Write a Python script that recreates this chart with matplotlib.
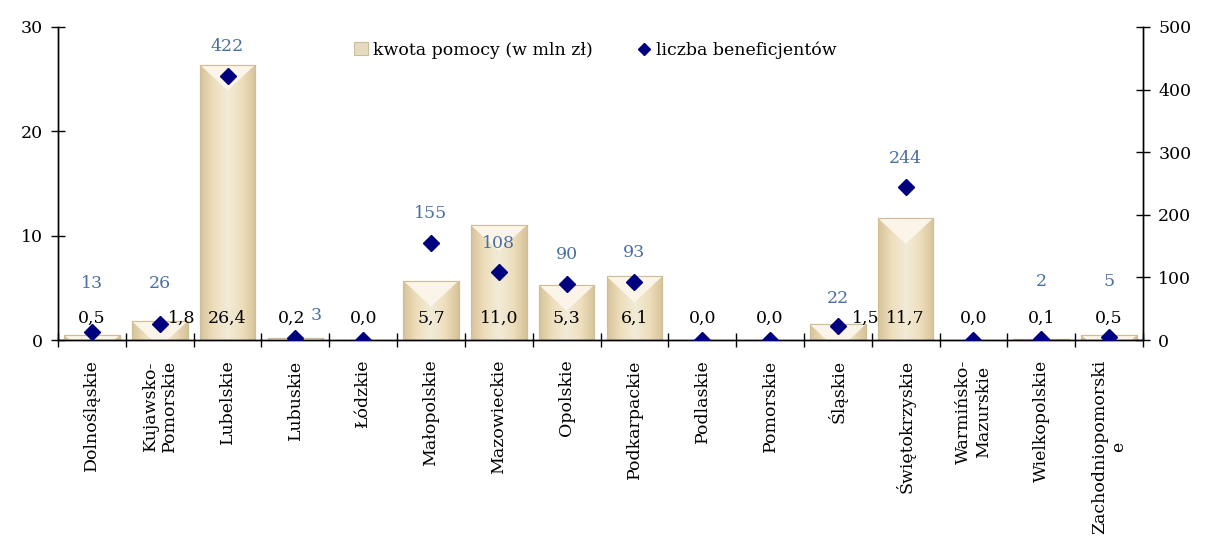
import numpy as np
import matplotlib as mpl
mpl.use('Agg')
import matplotlib.pyplot as plt
from matplotlib.colors import LinearSegmentedColormap
from matplotlib.patches import Patch, Polygon
from matplotlib.lines import Line2D

plt.rcParams['font.family'] = ['DejaVu Serif']
plt.rcParams['font.size'] = 12.5

regions = ['Dolnośląskie', 'Kujawsko-\nPomorskie', 'Lubelskie', 'Lubuskie', 'Łódzkie',
           'Małopolskie', 'Mazowieckie', 'Opolskie', 'Podkarpackie', 'Podlaskie',
           'Pomorskie', 'Śląskie', 'Świętokrzyskie', 'Warmińsko-\nMazurskie',
           'Wielkopolskie', 'Zachodniopomorski\ne']
kwota = [0.5, 1.8, 26.4, 0.2, 0.0, 5.7, 11.0, 5.3, 6.1, 0.0, 0.0, 1.5, 11.7, 0.0, 0.1, 0.5]
benef = [13, 26, 422, 3, 0, 155, 108, 90, 93, 0, 0, 22, 244, 0, 2, 5]

# label offsets (points) - hand tuned so labels don't collide
kw_dx = [0, 16, 0, -3, 0, 0, 0, 0, 0, 0, 0, 20, 0, 0, 0, 0]
bn_off = [(0, 35), (0, 29), (0, 21), (15, 16), (0, 0), (0, 21), (0, 21), (0, 21),
          (0, 21), (0, 0), (0, 0), (0, 20), (0, 21), (0, 0), (0, 41), (0, 40)]

blue_txt = '#4A6FA5'
navy = '#00007F'

fig = plt.figure(figsize=(12.1, 5.45), dpi=100)
ax = fig.add_axes([0.048, 0.376, 0.8966, 0.5745])
ax2 = ax.twinx()

x = np.arange(len(regions))
bars = ax.bar(x, kwota, width=0.82, color='#EADCB8', edgecolor='#CDBE95', linewidth=0.8, zorder=2)

ax.set_xlim(-0.5, len(regions) - 0.5)
ax.set_ylim(0, 30)
ax2.set_ylim(0, 500)

# gradient + bevel look on bars
cmap = LinearSegmentedColormap.from_list('beige', ['#D6C399', '#EEDFBC', '#F2EBD9', '#EEDFBC', '#D6C399'])
grad = np.linspace(0, 1, 256).reshape(1, -1)
inv = ax.transData.inverted()
for b in bars:
    h = b.get_height()
    if h <= 0:
        continue
    x0, w = b.get_x(), b.get_width()
    im = ax.imshow(grad, cmap=cmap, extent=(x0, x0 + w, 0, h), aspect='auto', zorder=2.1)
    im.set_clip_path(b)
    # lighter V-shaped top bevel
    tl = ax.transData.transform((x0, h))
    tr = ax.transData.transform((x0 + w, h))
    mid = inv.transform(((tl[0] + tr[0]) / 2, tl[1] - 26))
    tri = Polygon([(x0, h), (x0 + w, h), (mid[0], mid[1])], closed=True,
                  facecolor='#FAF5E8', edgecolor='none', zorder=2.2)
    ax.add_patch(tri)
    tri.set_clip_path(b)
    ax.bar(b.get_x() + w / 2, h, width=w, facecolor='none', edgecolor='#CDBE95', linewidth=0.8, zorder=2.3)
ax.set_xlim(-0.5, len(regions) - 0.5)
ax.set_ylim(0, 30)

# bar value labels
for i, v in enumerate(kwota):
    ax.annotate(('%.1f' % v).replace('.', ','), (i, 2.1), xytext=(kw_dx[i], 0), textcoords='offset points',
                ha='center', va='center', color='black', zorder=5)

ax2.plot(x, benef, linestyle='none', marker='D', markersize=8, color=navy, zorder=3)
for i, v in enumerate(benef):
    if v == 0:
        continue
    ax2.annotate(str(v), (i, v), xytext=bn_off[i], textcoords='offset points',
                 ha='center', va='center', color=blue_txt)

# axes styling
ax.set_yticks([0, 10, 20, 30])
ax2.set_yticks([0, 100, 200, 300, 400, 500])
ax.tick_params(axis='y', direction='inout', length=10, width=1, pad=6)
ax2.tick_params(axis='y', direction='inout', length=10, width=1, pad=6)
ax.set_xticks(x)
ax.set_xticklabels(regions, rotation=90, ha='center', va='top', multialignment='center')
ax.tick_params(axis='x', length=0, pad=14)
ax.set_xticks(np.arange(-0.5, len(regions)), minor=True)
ax.tick_params(axis='x', which='minor', direction='inout', length=10, width=1)
for a in (ax, ax2):
    a.spines['top'].set_visible(False)
    for s in ('left', 'right', 'bottom'):
        a.spines[s].set_linewidth(1)

handles = [Patch(facecolor='#E6DBC0', edgecolor='#C9BD9A', linewidth=0.8),
           Line2D([], [], linestyle='none', marker='D', markersize=6, color=navy)]
fig.legend(handles, ['kwota pomocy (w mln zł)', 'liczba beneficjentów'], loc='center',
           bbox_to_anchor=(0.492, 0.908), ncol=2, frameon=False, handlelength=0.8,
           handleheight=0.8, handletextpad=0.3, columnspacing=2.5)

fig.savefig('out.png', dpi=100)
